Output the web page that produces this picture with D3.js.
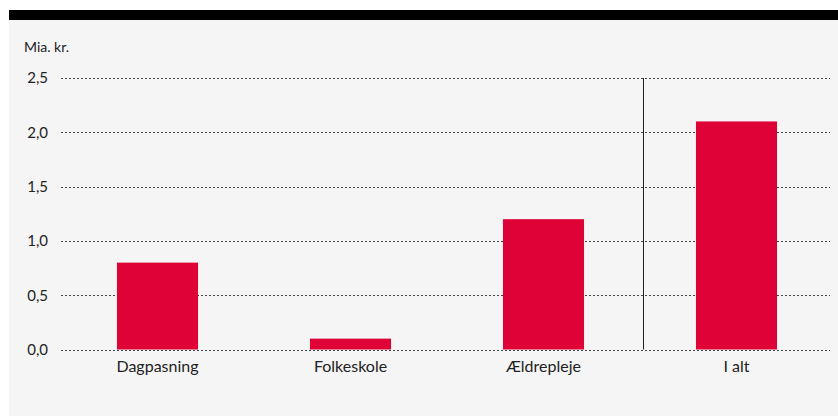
<!DOCTYPE html>
<html><head><meta charset="utf-8">
<script src="https://cdn.jsdelivr.net/npm/d3@7"></script>
<style>body{margin:0;background:#fff;}svg{display:block;font-family:Lato,"Open Sans",sans-serif;}</style>
</head><body>
<svg id="c" width="838" height="416"></svg>
<script>
const categories = ["Dagpasning", "Folkeskole", "Ældrepleje", "I alt"];
const values = [0.8, 0.1, 1.2, 2.1];
const yTicks = [0, 0.5, 1.0, 1.5, 2.0, 2.5];
const yTickLabels = ["0,0", "0,5", "1,0", "1,5", "2,0", "2,5"];
const unitLabel = "Mia. kr.";

const svg = d3.select("#c");
svg.append("rect").attr("x", 9).attr("y", 20).attr("width", 829).attr("height", 396).attr("fill", "#f5f5f5");
svg.append("rect").attr("x", 9).attr("y", 10).attr("width", 829).attr("height", 10).attr("fill", "#000");

const x = d3.scaleBand().domain(categories).range([61, 833]).paddingInner(0.58).paddingOuter(0.29);
const y = d3.scaleLinear().domain([0, 2.5]).range([349.5, 78]);

const grid = svg.append("g");
grid.selectAll("line").data(yTicks).join("line")
  .attr("x1", 61).attr("x2", 830)
  .attr("y1", d => Math.round(y(d)) + 0.5).attr("y2", d => Math.round(y(d)) + 0.5)
  .attr("stroke", "#444").attr("stroke-width", 1).attr("stroke-dasharray", "2,2");

const yAxis = d3.axisLeft(y).tickValues(yTicks).tickFormat((d, i) => yTickLabels[i]).tickSize(0).tickPadding(0);
const ya = svg.append("g").attr("transform", "translate(48,0)").call(yAxis);
ya.select(".domain").remove();
ya.selectAll("text").attr("font-size", 15).attr("fill", "#222").attr("font-family", "Lato,'Open Sans',sans-serif");

svg.append("text").attr("x", 24).attr("y", 52).attr("font-size", 14).attr("fill", "#222").text(unitLabel);

// divider before total
const divX = x("I alt") - (x.step() - x.bandwidth()) / 2 + 3.5;
svg.append("line").attr("x1", divX).attr("x2", divX).attr("y1", y(2.5)).attr("y2", y(0))
  .attr("stroke", "#222").attr("stroke-width", 1);

svg.append("g").selectAll("rect").data(values).join("rect")
  .attr("x", (d, i) => x(categories[i])).attr("width", x.bandwidth())
  .attr("y", d => y(d)).attr("height", d => y(0) - y(d))
  .attr("fill", "#de0236");

const xAxis = d3.axisBottom(x).tickSize(0).tickPadding(0);
const xa = svg.append("g").attr("transform", "translate(0,361)").call(xAxis);
xa.select(".domain").remove();
xa.selectAll("text").attr("font-size", 16).attr("fill", "#222").attr("font-family", "Lato,'Open Sans',sans-serif");
</script>
</body></html>
